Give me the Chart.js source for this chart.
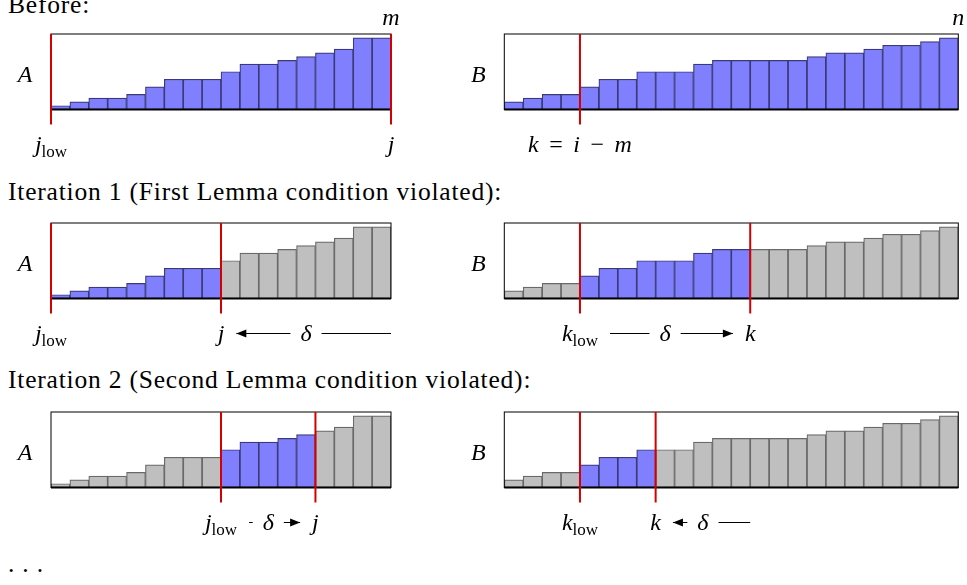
<!DOCTYPE html>
<html>
<head>
<meta charset="utf-8">
<script src="https://cdn.jsdelivr.net/npm/chart.js@4.4.1/dist/chart.umd.min.js"></script>
<style>
  body { margin: 0; background: #fff; width: 967px; height: 585px; overflow: hidden; position: relative; font-family: "Liberation Serif", serif; }
  .heading { position: absolute; left: 8px; font-size: 25.5px; line-height: 26px; letter-spacing: 0.8px; color: #000; white-space: nowrap; }
  .panel { position: absolute; }
</style>
</head>
<body>
<div class="heading" style="top:-8px">Before:</div>
<div class="heading" style="top:179px">Iteration 1 (First Lemma condition violated):</div>
<div class="heading" style="top:367px">Iteration 2 (Second Lemma condition violated):</div>
<div class="heading" style="top:551px">. . .</div>
<div id="panels"></div>
<script>
// sorted arrays A (m = 18) and B (n = 24)
const aValues = [1, 2, 3, 3, 4, 6, 8, 8, 8, 10, 12, 12, 13, 14, 15, 16, 19, 19];
const bValues = [2, 3, 4, 4, 6, 8, 8, 10, 10, 10, 12, 13, 13, 13, 13, 13, 14, 15, 15, 16, 17, 17, 18, 19];
const yMax = 20;

// per row: [before, iteration 1, iteration 2]
const aActive = [[0, 18], [0, 9], [9, 14]];
const bActive = [[0, 24], [4, 13], [4, 8]];
const aMarkers = [[0, 18], [0, 9], [9, 14]];
const bMarkers = [[4], [4, 13], [4, 8]];

const aLabels = [
  [{ at: 0, t: [["j", "i"], ["low", "s"]] }, { at: 18, t: [["j", "i"]] }],
  [{ at: 0, t: [["j", "i"], ["low", "s"]] }, { at: 9, t: [["j", "i"]] }],
  [{ at: 9, t: [["j", "i"], ["low", "s"]] }, { at: 14, t: [["j", "i"]] }],
];
const bLabels = [
  [{ at: 4, t: [["k", "i"], ["=", "o"], ["i", "i"], ["\u2212", "o"], ["m", "i"]] }],
  [{ at: 4, t: [["k", "i"], ["low", "s"]] }, { at: 13, t: [["k", "i"]] }],
  [{ at: 4, t: [["k", "i"], ["low", "s"]] }, { at: 8, t: [["k", "i"]] }],
];
const aDeltas = [null, { from: 9, to: 18, arrow: 9 }, { from: 9, to: 14, arrow: 14 }];
const bDeltas = [null, { from: 4, to: 13, arrow: 13 }, { from: 8, to: 13, arrow: 8 }];
const aCorner = ["m", null, null];
const bCorner = ["n", null, null];

const rowTops = [34, 223, 412];

const blueFill = "rgb(128,128,255)";
const blueEdge = "rgb(58,58,122)";
const grayFill = "rgb(191,191,191)";
const grayEdge = "rgb(105,105,105)";
const red = "rgb(212,0,0)";
const opGap = 10.5;

function fontFor(st) {
  if (st === "i") return 'italic 24px "Liberation Serif"';
  if (st === "s") return '17px "Liberation Serif"';
  return '24px "Liberation Serif"';
}

function segWidth(ctx, s, st) {
  ctx.font = fontFor(st);
  return ctx.measureText(s).width + (st === "o" ? 2 * opGap : 0);
}

function drawRich(ctx, segs, cx, baseline) {
  const w = segs.reduce((acc, [s, st]) => acc + segWidth(ctx, s, st), 0);
  let x = cx - w / 2;
  ctx.textBaseline = "alphabetic";
  ctx.textAlign = "left";
  segs.forEach(([s, st]) => {
    const sw = segWidth(ctx, s, st);
    ctx.font = fontFor(st);
    ctx.fillText(s, st === "o" ? x + opGap : x, st === "s" ? baseline + 5 : baseline);
    x += sw;
  });
  return { left: cx - w / 2, right: cx + w / 2 };
}

function arrowHead(ctx, x, y, dir) {
  ctx.beginPath();
  ctx.moveTo(x, y);
  ctx.lineTo(x - dir * 10, y - 4);
  ctx.lineTo(x - dir * 10, y + 4);
  ctx.closePath();
  ctx.fill();
}

const overlay = {
  id: "overlay",
  afterDatasetsDraw(chart, args, o) {
    const { ctx, chartArea: ca } = chart;
    const xs = chart.scales.x;
    const edge = (p) => xs.getPixelForValue(p - 0.5);
    ctx.save();
    ctx.fillStyle = "#000";
    ctx.strokeStyle = "#000";

    // frame
    ctx.lineWidth = 1;
    ctx.strokeRect(ca.left, ca.top, ca.right - ca.left, ca.bottom - ca.top);
    ctx.lineWidth = 1.8;
    ctx.beginPath();
    ctx.moveTo(ca.left, ca.bottom);
    ctx.lineTo(ca.right, ca.bottom);
    ctx.stroke();

    // pointers
    ctx.strokeStyle = red;
    ctx.lineWidth = 2;
    o.markers.forEach((p) => {
      ctx.beginPath();
      ctx.moveTo(edge(p), ca.top);
      ctx.lineTo(edge(p), ca.bottom + 15);
      ctx.stroke();
    });

    // names
    const base = ca.bottom + 42;
    drawRich(ctx, [[o.name, "i"]], ca.left - 26, ca.top + 47.5);
    if (o.corner) drawRich(ctx, [[o.corner, "i"]], edge(o.n), ca.top - 9);

    const boxes = {};
    o.labels.forEach((l) => { boxes[l.at] = drawRich(ctx, l.t, edge(l.at), base); });

    if (o.delta) {
      const d = o.delta;
      const xa = edge(d.from), xb = edge(d.to);
      const mid = (xa + xb) / 2;
      const b = drawRich(ctx, [["\u03b4", "i"]], mid, base);
      const y = base - 7;
      const l0 = boxes[d.from] ? boxes[d.from].right + 12 : xa;
      const r0 = boxes[d.to] ? boxes[d.to].left - 12 : xb;
      ctx.strokeStyle = "#000";
      ctx.lineWidth = 1;
      ctx.beginPath();
      ctx.moveTo(l0, y); ctx.lineTo(b.left - 10, y);
      ctx.moveTo(b.right + 10, y); ctx.lineTo(r0, y);
      ctx.stroke();
      if (d.arrow === d.from) arrowHead(ctx, l0, y, -1);
      else arrowHead(ctx, r0, y, 1);
    }
    ctx.restore();
  }
};

function makePanel(row, side) {
  const isA = side === "A";
  const values = isA ? aValues : bValues;
  const [lo, hi] = (isA ? aActive : bActive)[row];
  const inRange = (i) => i >= lo && i < hi;

  const box = isA
    ? { left: 0, width: 430, padL: 51, padR: 39 }
    : { left: 460, width: 507, padL: 44.3, padR: 8.7 };
  const height = 170, padT = 34, boxH = 75.5;

  const div = document.createElement("div");
  div.className = "panel";
  div.style.left = box.left + "px";
  div.style.top = (rowTops[row] - padT) + "px";
  const canvas = document.createElement("canvas");
  canvas.width = box.width;
  canvas.height = height;
  div.appendChild(canvas);
  document.getElementById("panels").appendChild(div);

  new Chart(canvas.getContext("2d"), {
    type: "bar",
    data: {
      labels: values.map((v, i) => String(i + 1)),
      datasets: [{
        data: values,
        backgroundColor: values.map((v, i) => inRange(i) ? blueFill : grayFill),
        borderColor: values.map((v, i) => inRange(i) ? blueEdge : grayEdge),
        borderWidth: 1.2,
        borderSkipped: false,
        barPercentage: 1,
        categoryPercentage: 1,
      }],
    },
    options: {
      responsive: false,
      animation: false,
      events: [],
      layout: { padding: { left: box.padL, right: box.padR, top: padT, bottom: height - padT - boxH } },
      plugins: {
        legend: { display: false },
        tooltip: { enabled: false },
        overlay: {
          name: side,
          n: values.length,
          corner: (isA ? aCorner : bCorner)[row],
          markers: (isA ? aMarkers : bMarkers)[row],
          labels: (isA ? aLabels : bLabels)[row],
          delta: (isA ? aDeltas : bDeltas)[row],
        },
      },
      scales: {
        x: { display: false },
        y: { display: false, min: 0, max: yMax },
      },
    },
    plugins: [overlay],
  });
}

[0, 1, 2].forEach((r) => { makePanel(r, "A"); makePanel(r, "B"); });
</script>
</body>
</html>
